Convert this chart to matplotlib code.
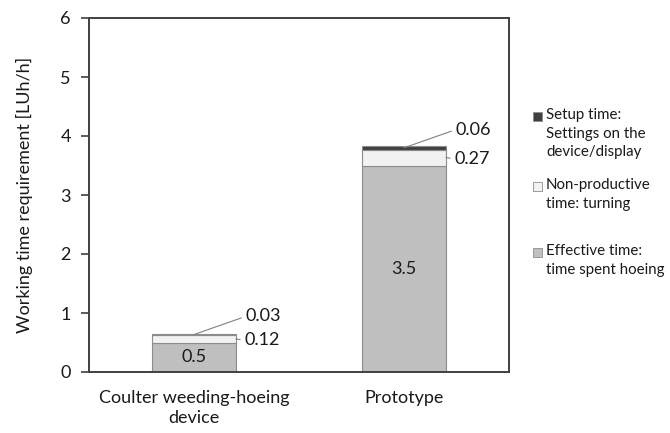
import matplotlib
matplotlib.use("Agg")
import matplotlib.pyplot as plt
from matplotlib.patches import Rectangle
import numpy as np

plt.rcParams['font.family'] = ['Lato', 'DejaVu Sans']

categories = ["Coulter weeding-hoeing\ndevice", "Prototype"]
effective = [0.5, 3.5]
nonproductive = [0.12, 0.27]
setup = [0.03, 0.06]
legend_labels = ["Setup time:\nSettings on the\ndevice/display",
                 "Non-productive\ntime: turning",
                 "Effective time:\ntime spent hoeing"]
yticks = [0, 1, 2, 3, 4, 5, 6]

c_eff = '#bfbfbf'
c_non = '#f2f2f2'
c_set = '#404040'
edge = '#8c8c8c'
txt = '#1a1a1a'

fig = plt.figure(figsize=(6.7, 4.33), dpi=100)
ax = fig.add_axes([89/670, 1-372/433, 420/670, 354/433])

x = np.arange(len(categories))
w = 0.4
eff = np.array(effective)
non = np.array(nonproductive)
sup = np.array(setup)
ax.bar(x, eff, w, color=c_eff, edgecolor=edge, linewidth=0.8)
ax.bar(x, non, w, bottom=eff, color=c_non, edgecolor=edge, linewidth=0.8)
ax.bar(x, sup, w, bottom=eff+non, color=c_set, edgecolor=edge, linewidth=0.8)

ax.set_xlim(-0.5, 1.5)
ax.set_ylim(0, 6)
ax.set_yticks(yticks)
ax.set_yticklabels([str(v) for v in yticks], fontsize=13, color=txt)
ax.set_xticks(x)
ax.set_xticklabels(categories, fontsize=13, color=txt, linespacing=1.3)
ax.tick_params(axis='x', length=0, pad=13)
ax.tick_params(axis='y', length=6, width=1.2, color='#404040', pad=7, direction='out')
for s in ax.spines.values():
    s.set_color('#404040')
    s.set_linewidth(1.4)
ax.set_ylabel("Working time requirement [LUh/h]", fontsize=13, color=txt, labelpad=20)

# value labels
for i in range(len(categories)):
    ax.text(x[i], eff[i]/2, f"{effective[i]:g}", ha='center', va='center', fontsize=13, color=txt)
    ap = dict(arrowstyle='-', color='#808080', lw=0.8, shrinkA=1, shrinkB=0, relpos=(0, 0.5))
    top = eff[i] + non[i] + sup[i]
    ax.annotate(f"{setup[i]:.2f}", xy=(x[i], top - sup[i]/2), xytext=(37, 13),
                textcoords='offset points', ha='left', va='center', fontsize=13,
                color=txt, arrowprops=ap)
    ax.annotate(f"{nonproductive[i]:.2f}", xy=(x[i] + w/2, eff[i] + non[i]/2), xytext=(6, -1),
                textcoords='offset points', ha='left', va='center', fontsize=13,
                color=txt, arrowprops=ap)

# legend (manual, Excel-like spacing)
leg_colors = [c_set, c_non, c_eff]
leg_tops = [117, 187, 253]
for lab, col, yt in zip(legend_labels, leg_colors, leg_tops):
    fig.patches.append(Rectangle((533/670, 1-(yt+4)/433), 9/670, 9/433,
                                 transform=fig.transFigure, facecolor=col,
                                 edgecolor=edge, linewidth=0.6))
    fig.text(546/670, 1-(yt-9)/433, lab, ha='left', va='top', fontsize=10.8,
             color=txt, linespacing=1.42)

fig.savefig("out.png", dpi=100)
